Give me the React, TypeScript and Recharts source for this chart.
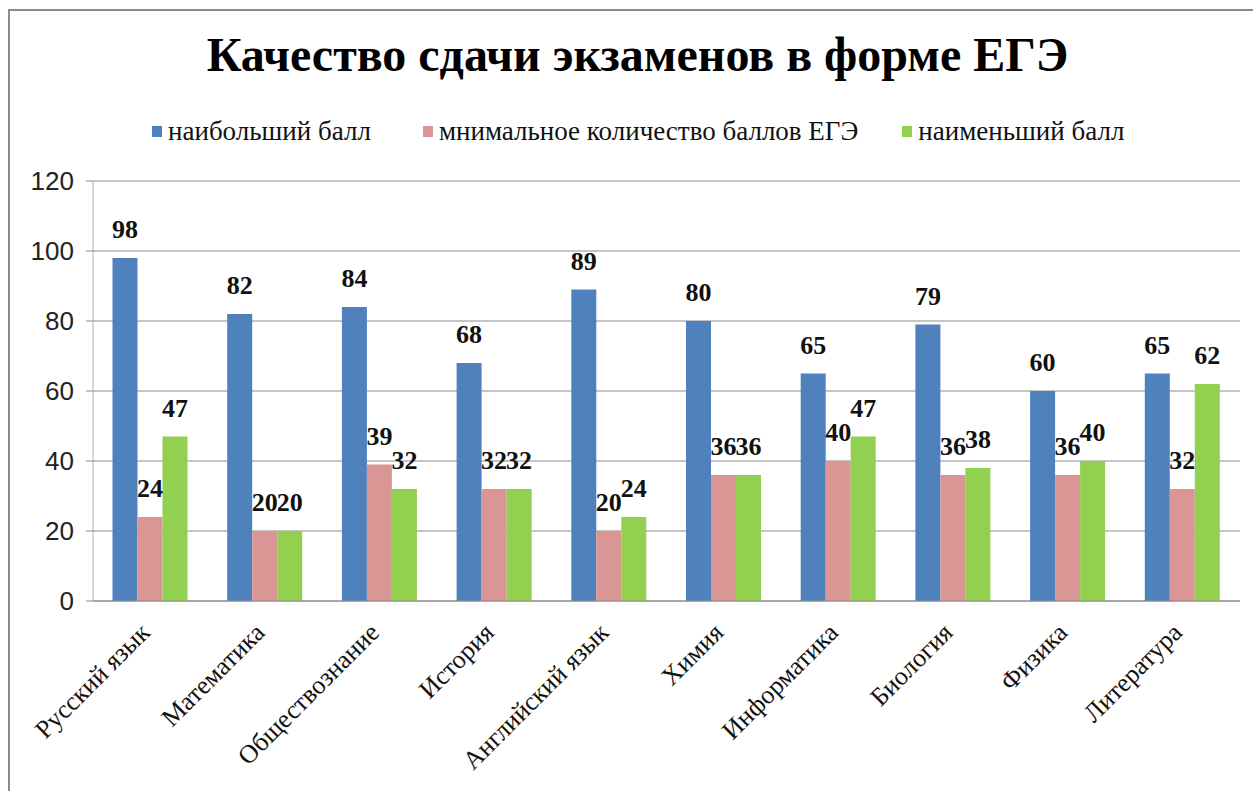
import React from 'react';
import { BarChart, Bar, XAxis, YAxis, CartesianGrid, LabelList } from 'recharts';

const subjects = ['Русский язык', 'Математика', 'Обществознание', 'История', 'Английский язык', 'Химия', 'Информатика', 'Биология', 'Физика', 'Литература'];
const maxScore = [98, 82, 84, 68, 89, 80, 65, 79, 60, 65];
const minRequired = [24, 20, 39, 32, 20, 36, 40, 36, 36, 32];
const minScore = [47, 20, 32, 32, 24, 36, 47, 38, 40, 62];
const yTicks = [0, 20, 40, 60, 80, 100, 120];

const seriesNames = ['наибольший балл', 'мнимальное количество баллов ЕГЭ', 'наименьший балл'];
const COLORS = ['#4F81BD', '#D99694', '#92D050'];

const SERIF = '"Liberation Serif", "Times New Roman", serif';
const SANS = '"Liberation Sans", Arial, sans-serif';

const chartData = subjects.map((name, i) => ({
  name,
  max: maxScore[i],
  req: minRequired[i],
  min: minScore[i],
}));

// rotated category label, its end sits just under the category centre
const XTick = (props: any) => {
  const { x, y, payload } = props;
  const tx = x + 1;
  const ty = y + 25;
  return (
    <text
      x={tx}
      y={ty}
      transform={`rotate(-45, ${tx}, ${ty})`}
      textAnchor="end"
      fontFamily={SERIF}
      fontSize={26}
      fill="#111"
    >
      {payload.value}
    </text>
  );
};

const labelStyle = { fontFamily: SERIF, fontWeight: 'bold' as const, fontSize: 26, fill: '#111' };
const legendGaps = [0, 52, 44];

export default function App() {
  return (
    <div style={{ position: 'absolute', left: 0, top: 0, width: 1253, height: 791, overflow: 'hidden', background: '#fff' }}>
      <div style={{ position: 'absolute', left: 8, top: 9, width: 1270, height: 800, border: '2px solid #8a8a8a', boxSizing: 'border-box' }} />
      <div style={{ position: 'absolute', left: 0, top: 27, width: 1253, textAlign: 'center', fontFamily: SERIF, fontWeight: 'bold', fontSize: 48, color: '#000' }}>
        <span style={{ display: 'inline-block', marginLeft: 22 }}>Качество сдачи экзаменов в форме ЕГЭ</span>
      </div>
      <div style={{ position: 'absolute', left: 152, top: 116, display: 'flex', fontFamily: SERIF, fontSize: 27, color: '#111', whiteSpace: 'nowrap' }}>
        {seriesNames.map((s, i) => (
          <div key={s} style={{ display: 'flex', alignItems: 'center', marginLeft: legendGaps[i] }}>
            <span style={{ display: 'inline-block', width: 10, height: 11, background: COLORS[i], marginRight: 6 }} />
            <span>{s}</span>
          </div>
        ))}
      </div>
      <div style={{ position: 'absolute', left: 0, top: 0 }}>
        <BarChart
          width={1253}
          height={791}
          data={chartData}
          margin={{ top: 181, right: 13, left: 0, bottom: 160 }}
          barCategoryGap="17%"
          barGap={0}
        >
          <CartesianGrid vertical={false} stroke="#8c8c8c" />
          <XAxis
            dataKey="name"
            interval={0}
            stroke="#8c8c8c"
            tickLine={false}
            tick={<XTick />}
          />
          <YAxis
            width={93}
            domain={[0, 120]}
            ticks={yTicks}
            stroke="#b0b0b0"
            tickSize={7}
            tickMargin={12}
            tick={{ fontFamily: SANS, fontSize: 26, fill: '#222' }}
            tickLine={{ stroke: '#8c8c8c' }}
          />
          <Bar dataKey="max" fill={COLORS[0]} isAnimationActive={false}>
            <LabelList dataKey="max" position="top" offset={20} style={labelStyle} />
          </Bar>
          <Bar dataKey="req" fill={COLORS[1]} isAnimationActive={false}>
            <LabelList dataKey="req" position="top" offset={20} style={labelStyle} />
          </Bar>
          <Bar dataKey="min" fill={COLORS[2]} isAnimationActive={false}>
            <LabelList dataKey="min" position="top" offset={20} style={labelStyle} />
          </Bar>
        </BarChart>
      </div>
    </div>
  );
}
